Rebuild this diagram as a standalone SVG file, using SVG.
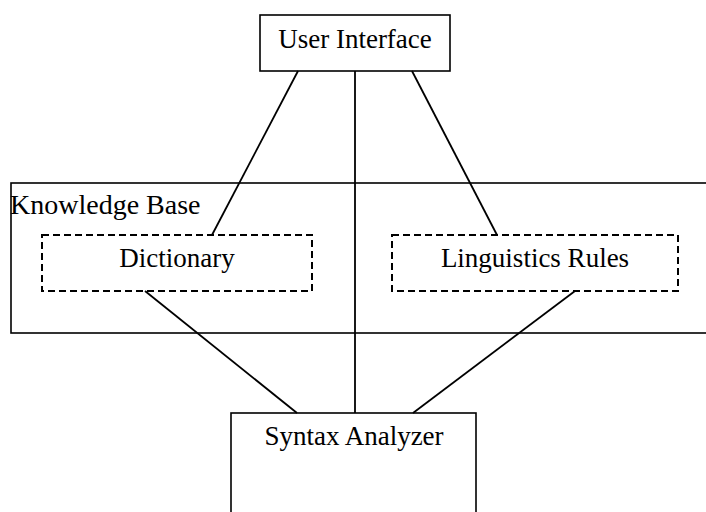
<svg xmlns="http://www.w3.org/2000/svg" width="706" height="512" viewBox="0 0 706 512">
<style>
.box{fill:none;stroke:#000;stroke-width:1.6}
.dash{fill:none;stroke:#000;stroke-width:2;stroke-dasharray:7 4}
.ln{stroke:#000;stroke-width:1.8;fill:none}
text{font-family:"Liberation Serif","Times New Roman",serif;font-size:27px;fill:#000}
</style>
<rect width="706" height="512" fill="#fff"/>
<g id="knowledge-base">
<rect class="box" x="11" y="183" width="710" height="150"/>
<text x="10" y="214" style="font-size:28px">Knowledge Base</text>
</g>
<g id="connectors">
<line class="ln" x1="298" y1="71" x2="212" y2="235"/>
<line class="ln" x1="412" y1="71" x2="497" y2="235"/>
<line class="ln" x1="355" y1="71" x2="355" y2="413"/>
<line class="ln" x1="145" y1="291" x2="297" y2="413"/>
<line class="ln" x1="575" y1="291" x2="413" y2="413"/>
</g>
<g id="user-interface">
<rect class="box" x="260" y="15" width="190" height="56" fill="#fff"/>
<text x="355" y="48" text-anchor="middle">User Interface</text>
</g>
<g id="dictionary">
<rect class="dash" x="42" y="235" width="270" height="56"/>
<text x="177" y="267" text-anchor="middle">Dictionary</text>
</g>
<g id="linguistics-rules">
<rect class="dash" x="392" y="235" width="286" height="56"/>
<text x="535" y="267" text-anchor="middle">Linguistics Rules</text>
</g>
<g id="syntax-analyzer">
<rect class="box" x="231" y="413" width="245" height="120"/>
<text x="354" y="445" text-anchor="middle">Syntax Analyzer</text>
</g>
</svg>
